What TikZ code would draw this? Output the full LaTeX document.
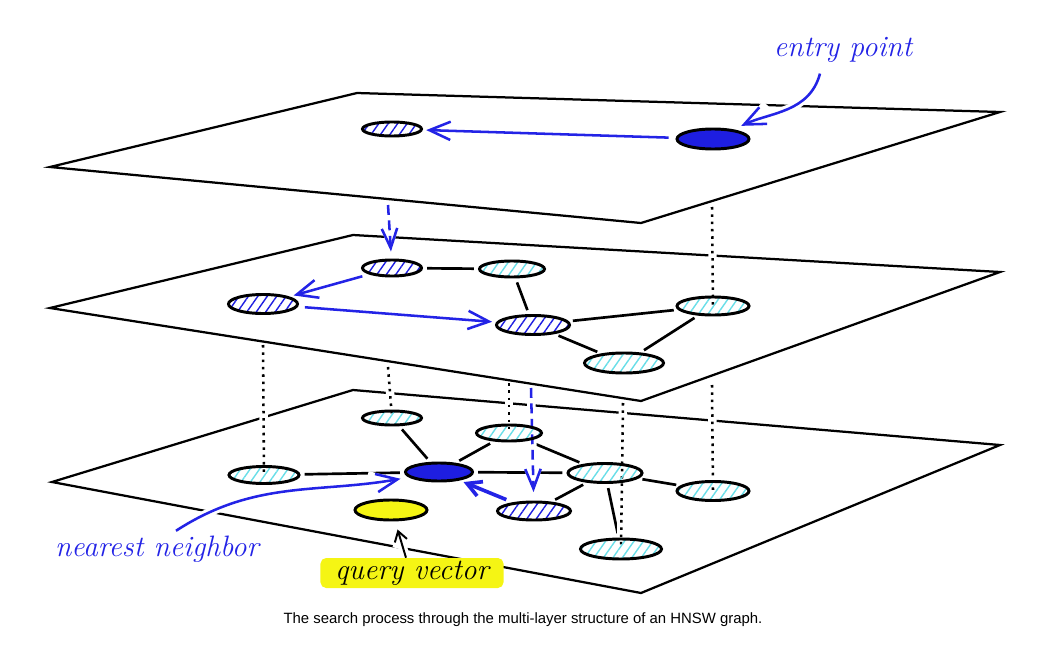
\documentclass[tikz,border=0pt]{standalone}
\usepackage{fontspec}
\newfontfamily\capfont{Liberation Sans}
\usetikzlibrary{shapes.geometric,arrows.meta,patterns.meta,calc}
\pgfdeclarelayer{bg}
\pgfdeclarelayer{mid}
\pgfsetlayers{bg,mid,main}
\definecolor{nblue}{RGB}{30,30,225}
\definecolor{ablue}{RGB}{35,35,230}
\definecolor{hcyan}{RGB}{105,222,232}
\definecolor{hyellow}{RGB}{245,245,20}

\begin{document}
\begin{tikzpicture}[x=0.025cm,y=-0.025cm]
\tikzstyle{plane}=[line width=1.6pt, line join=miter]
\tikzstyle{vec}=[ellipse, draw, line width=2.1pt, inner sep=0pt]
\tikzstyle{cyanvec}=[vec, pattern={Lines[angle=55,distance=5.5pt,line width=1pt]}, pattern color=hcyan]
\tikzstyle{bluevec}=[vec, pattern={Lines[angle=55,distance=5.5pt,line width=1pt]}, pattern color=nblue]
\tikzstyle{fullvec}=[vec, fill=nblue]
\tikzstyle{edge}=[line width=1.9pt, shorten >=3pt, shorten <=3pt]
\tikzstyle{gap}=[preaction={draw=white, line width=6pt, solid}]
\tikzstyle{hop}=[draw=ablue, line width=1.8pt, -{Straight Barb[length=15pt,width=13pt]}, shorten >=3pt, shorten <=5pt]
\tikzstyle{down}=[line width=1.8pt, dash pattern=on 1.8pt off 3.4pt, gap]
\tikzstyle{drop}=[draw=ablue, line width=1.8pt, dash pattern=on 7pt off 4pt, -{Straight Barb[length=14pt,width=11pt]}, gap]
\tikzstyle{hand}=[font=\fontsize{21}{24}\selectfont\itshape]
\useasboundingbox (0,0) rectangle (1041,651);

\begin{pgfonlayer}{bg}
\draw[plane] (50,167) -- (357,93) -- (1000,112) -- (641,223) -- cycle;
\draw[plane] (50,308) -- (353,235) -- (1000,272) -- (641,401) -- cycle;
\draw[plane] (52,482) -- (353,390) -- (1000,445) -- (641,593) -- cycle;
\end{pgfonlayer}

% top layer
\node[bluevec, minimum width=1.475cm, minimum height=0.35cm] (t1) at (392,129) {};
\node[fullvec, minimum width=1.8cm, minimum height=0.5cm] (ep) at (713,139) {};

% middle layer
\node[bluevec, minimum width=1.475cm, minimum height=0.4cm] (m1) at (392,268) {};
\node[cyanvec, minimum width=1.625cm, minimum height=0.4cm] (m2) at (512,269) {};
\node[bluevec, minimum width=1.725cm, minimum height=0.475cm] (m3) at (263,304) {};
\node[bluevec, minimum width=1.825cm, minimum height=0.475cm] (m4) at (533,325) {};
\node[cyanvec, minimum width=1.8cm, minimum height=0.45cm] (m5) at (713,306) {};
\node[cyanvec, minimum width=1.975cm, minimum height=0.5cm] (m6) at (624,363) {};

% bottom layer
\node[cyanvec, minimum width=1.75cm, minimum height=0.425cm] (b1) at (264,475) {};
\node[cyanvec, minimum width=1.475cm, minimum height=0.35cm] (b2) at (392,418) {};
\node[fullvec, minimum width=1.675cm, minimum height=0.45cm] (nn) at (439,472) {};
\node[cyanvec, minimum width=1.625cm, minimum height=0.4cm] (b3) at (509,433) {};
\node[cyanvec, minimum width=1.85cm, minimum height=0.475cm] (b4) at (605,473) {};
\node[bluevec, minimum width=1.825cm, minimum height=0.45cm] (b5) at (534,511) {};
\node[cyanvec, minimum width=1.8cm, minimum height=0.475cm] (b6) at (713,491) {};
\node[cyanvec, minimum width=2.025cm, minimum height=0.5cm] (b7) at (621,549) {};
\node[vec, fill=hyellow, minimum width=1.8cm, minimum height=0.5cm] (q) at (391,510) {};

\node[hand, text=ablue] (lep) at (843,50) {entry point};
\node[hand, text=ablue] (lnn) at (157,549) {nearest neighbor};
\node[hand, fill=hyellow, rounded corners=4pt, minimum width=4.575cm, minimum height=0.75cm, inner sep=0pt] (lq) at (412,573) {query vector};
\node[font=\capfont\fontsize{10.6}{12}\selectfont] (cap) at (523,620) {The search process through the multi-layer structure of an HNSW graph.};

\coordinate (u1) at (712,207);
\coordinate (u2) at (388,205);
\coordinate (u3) at (263,345);
\coordinate (u4) at (388,367);
\coordinate (u5) at (509,383);
\coordinate (u6) at (531,388);
\coordinate (u7) at (623,403);
\coordinate (u8) at (712,385);

\begin{pgfonlayer}{mid}
\draw[edge] (m1) -- (m2);
\draw[edge] (m2) -- (m4);
\draw[edge] (m4) -- (m5);
\draw[edge] (m4) -- (m6);
\draw[edge] (m6) -- (m5);
\draw[edge] (b1) -- (nn);
\draw[edge] (b2) -- (nn);
\draw[edge] (b3) -- (nn);
\draw[edge] (nn) -- (b4);
\draw[edge] (b3) -- (b4);
\draw[edge] (b4) -- (b5);
\draw[edge] (b4) -- (b6);
\draw[edge] (b4) -- (b7);

\draw[hop] (ep) -- (t1);
\draw[hop] (m1) -- (m3);
\draw[hop] (m3) -- (m4);
\draw[hop, line width=2.6pt, -{Straight Barb[length=10pt,width=11pt]}] (b5) -- (nn);

\draw[down] (u1) -- (m5.center);
\draw[down] (u3) -- (b1.center);
\draw[down] (u4) -- (b2.center);
\draw[down] (u5) -- (b3.center);
\draw[down] (u7) -- (b7.center);
\draw[down] (u8) -- (b6.center);
\draw[drop, shorten >=5pt] (u2) -- (m1);
\draw[drop, shorten >=6pt] (u6) -- (b5);

\draw[hop, gap, shorten <=0pt, shorten >=6pt] ($(lep.south)+(-23,6)$) to[out=-105,in=25] (ep);
\draw[hop, gap, shorten <=0pt, shorten >=6pt] ($(lnn.north)+(19,0)$) to[out=33,in=190] (nn);
\draw[line width=1.4pt, -{Straight Barb[length=7pt,width=9pt]}, gap, shorten >=6pt] ($(lq.north)+(-6,0)$) -- (q.-70);
\end{pgfonlayer}
\end{tikzpicture}
\end{document}
